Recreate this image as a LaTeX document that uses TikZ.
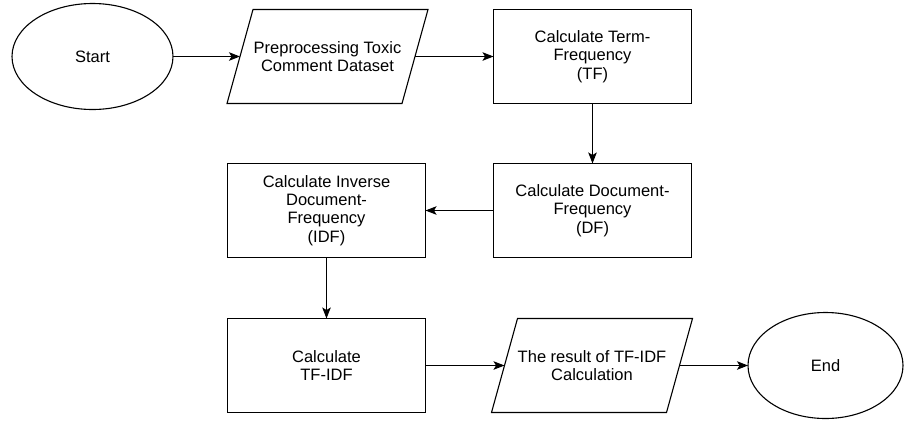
\documentclass[tikz,border=0pt]{standalone}
\usepackage{fontspec}
\setmainfont{Liberation Sans}
\usetikzlibrary{shapes.geometric,arrows.meta,calc}
\begin{document}
\begin{tikzpicture}[x=1pt,y=-1pt,
  every node/.style={font=\fontsize{16.5}{18.3}\selectfont, align=center, inner sep=0pt, outer sep=0pt},
  term/.style={ellipse, draw, line width=1.1pt, minimum width=161pt, minimum height=106pt},
  proc/.style={rectangle, draw, line width=1.1pt, minimum width=198pt, minimum height=94pt},
  io/.style={rectangle, minimum width=175pt, minimum height=94pt},
  flow/.style={line width=1.1pt, -{Stealth[length=11pt,width=8.5pt,inset=2.5pt]}},
  edge/.style={line width=1.1pt, line join=miter}]
\useasboundingbox (0,0) rectangle (904,421);
\node[term] (start) at (92.5,56.5) {Start};
\node[io] (pre) at (327.5,56.5) {Preprocessing Toxic\\Comment Dataset};
\draw[edge] ($(pre.south west)+(-13,0)$) -- ($(pre.north west)+(13,0)$) -- ($(pre.north east)+(13,0)$) -- ($(pre.south east)+(-13,0)$) -- cycle;
\node[proc] (tf) at (592.5,56.5) {Calculate Term-\\Frequency\\(TF)};
\node[proc] (df) at (592.5,210.5) {Calculate Document-\\Frequency\\(DF)};
\node[proc] (idf) at (326.5,210.5) {Calculate Inverse\\Document-\\Frequency\\(IDF)};
\node[proc] (tfidf) at (326.5,365.5) {Calculate\\TF-IDF};
\node[io] (res) at (592,365.5) {The result of TF-IDF\\Calculation};
\draw[edge] ($(res.south west)+(-13,0)$) -- ($(res.north west)+(13,0)$) -- ($(res.north east)+(13,0)$) -- ($(res.south east)+(-13,0)$) -- cycle;
\node[term, minimum width=155pt] (end) at (825.5,365.5) {End};
\draw[flow] (start.east) -- (pre.west |- start.east);
\draw[flow] (pre.east) -- (tf.west |- pre.east);
\draw[flow] (tf.south) -- (df.north);
\draw[flow] (df.west) -- (idf.east |- df.west);
\draw[flow] (idf.south) -- (tfidf.north);
\draw[flow] (tfidf.east) -- (res.west);
\draw[flow] (res.east) -- (end.west);
\end{tikzpicture}
\end{document}
